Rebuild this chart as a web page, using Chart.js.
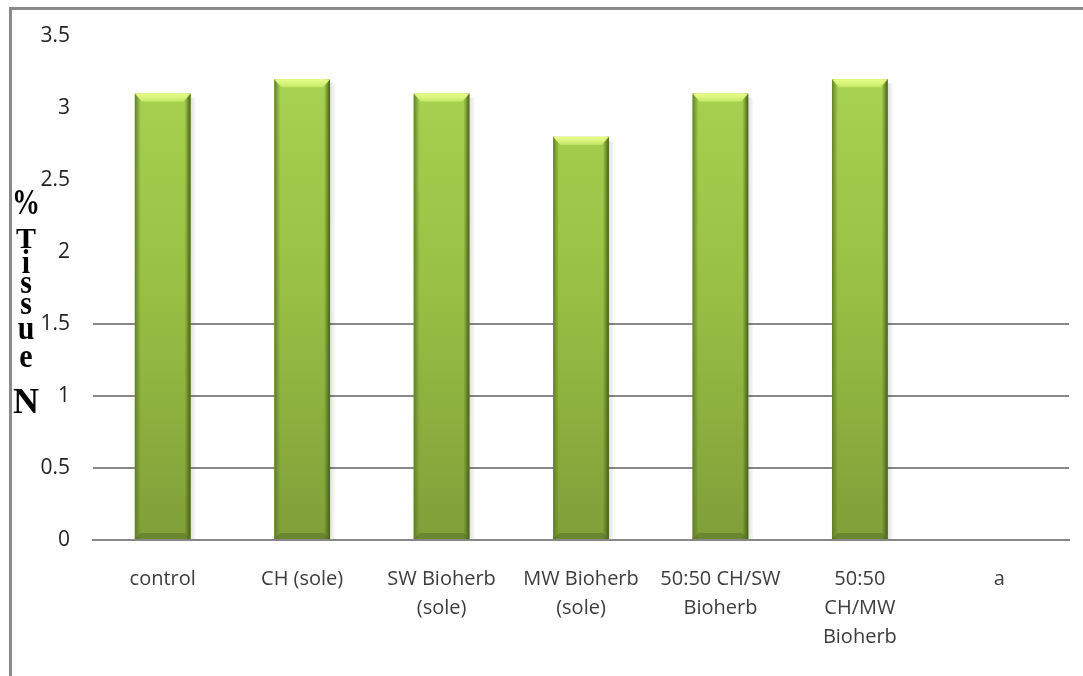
<!DOCTYPE html>
<html>
<head>
<meta charset="utf-8">
<script src="https://cdn.jsdelivr.net/npm/chart.js@4.4.1/dist/chart.umd.min.js"></script>
<style>
  html, body { margin: 0; padding: 0; background: #ffffff; }
  #wrap { width: 1083px; height: 676px; position: relative; }
</style>
</head>
<body>
<div id="wrap"><canvas id="c" width="1083" height="676"></canvas></div>
<script>
// ---- data ----
const categories = [
  ["control"],
  ["CH (sole)"],
  ["SW Bioherb", "(sole)"],
  ["MW Bioherb", "(sole)"],
  ["50:50 CH/SW", "Bioherb"],
  ["50:50", "CH/MW", "Bioherb"],
  ["a"]
];
const tissueN = [3.1, 3.2, 3.1, 2.8, 3.1, 3.2, null];
const yTitleLetters = ["%", "T", "i", "s", "s", "u", "e", "N"];
const yMin = 0, yMax = 3.5, yStep = 0.5;

// ---- plugins ----
const framePlugin = {
  id: 'frame',
  beforeDraw(chart) {
    const ctx = chart.ctx;
    ctx.save();
    ctx.fillStyle = '#ffffff';
    ctx.fillRect(0, 0, chart.width, chart.height);
    ctx.strokeStyle = '#8a8a8a';
    ctx.lineWidth = 3;
    ctx.beginPath();
    ctx.moveTo(10.5, chart.height);
    ctx.lineTo(10.5, 8.5);
    ctx.lineTo(chart.width, 8.5);
    ctx.stroke();
    ctx.restore();
  }
};

const yTitlePlugin = {
  id: 'yTitleStack',
  afterDraw(chart) {
    const ctx = chart.ctx;
    const baselines = [214, 248, 273, 293, 314, 339, 367, 413];
    const sizes = [28, 30, 30, 30, 30, 30, 30, 36];
    const stretch = [1.25, 1.0, 1.15, 1.15, 1.15, 1.15, 1.15, 1.0];
    ctx.save();
    ctx.fillStyle = '#000000';
    ctx.textAlign = 'center';
    ctx.textBaseline = 'alphabetic';
    yTitleLetters.forEach((ch, i) => {
      ctx.save();
      ctx.translate(26, baselines[i]);
      ctx.scale(1, stretch[i]);
      ctx.font = 'bold ' + sizes[i] + 'px "Liberation Serif", "DejaVu Serif", serif';
      ctx.fillText(ch, 0, 0);
      ctx.restore();
    });
    ctx.restore();
  }
};

const bevelPlugin = {
  id: 'bevel',
  beforeDatasetsDraw(chart) {
    const ctx = chart.ctx;
    const meta = chart.getDatasetMeta(0);
    ctx.save();
    meta.data.forEach((bar, i) => {
      if (tissueN[i] == null) return;
      const p = bar.getProps(['x', 'y', 'base', 'width'], true);
      const r = p.x + p.width / 2;
      const g = ctx.createLinearGradient(r, 0, r + 6, 0);
      g.addColorStop(0, 'rgba(0,0,0,0.12)');
      g.addColorStop(1, 'rgba(0,0,0,0)');
      ctx.fillStyle = g;
      ctx.fillRect(r, p.y + 4, 6, p.base - p.y - 4);
    });
    ctx.restore();
  },
  afterDatasetsDraw(chart) {
    const ctx = chart.ctx;
    const meta = chart.getDatasetMeta(0);
    ctx.save();
    meta.data.forEach((bar, i) => {
      if (tissueN[i] == null) return;
      const p = bar.getProps(['x', 'y', 'base', 'width'], true);
      const l = p.x - p.width / 2, r = p.x + p.width / 2;
      const t = p.y, b = p.base;
      const gl = ctx.createLinearGradient(l, 0, l + 6, 0);
      gl.addColorStop(0, 'rgba(95,125,35,0.95)');
      gl.addColorStop(1, 'rgba(95,125,35,0)');
      ctx.fillStyle = gl;
      ctx.fillRect(l, t, 6, b - t);
      const gr = ctx.createLinearGradient(r - 6, 0, r, 0);
      gr.addColorStop(0, 'rgba(70,95,25,0)');
      gr.addColorStop(1, 'rgba(70,95,25,1)');
      ctx.fillStyle = gr;
      ctx.fillRect(r - 6, t, 6, b - t);
      const gt = ctx.createLinearGradient(0, t, 0, t + 8);
      gt.addColorStop(0, '#eaff8c');
      gt.addColorStop(1, '#c4e868');
      ctx.fillStyle = gt;
      ctx.beginPath();
      ctx.moveTo(l, t);
      ctx.lineTo(r, t);
      ctx.lineTo(r - 7, t + 8);
      ctx.lineTo(l + 7, t + 8);
      ctx.closePath();
      ctx.fill();
      ctx.fillStyle = 'rgba(85,110,35,0.5)';
      ctx.beginPath();
      ctx.moveTo(l, b);
      ctx.lineTo(r, b);
      ctx.lineTo(r - 6, b - 6);
      ctx.lineTo(l + 6, b - 6);
      ctx.closePath();
      ctx.fill();
    });
    ctx.restore();
  }
};

function barFill(context) {
  const chart = context.chart;
  const area = chart.chartArea;
  if (!area) return '#a6cc4c';
  const g = chart.ctx.createLinearGradient(0, area.top, 0, area.bottom);
  g.addColorStop(0, '#aad553');
  g.addColorStop(0.5, '#99c044');
  g.addColorStop(1, '#809f39');
  return g;
}

new Chart(document.getElementById('c'), {
  type: 'bar',
  data: {
    labels: categories,
    datasets: [{
      data: tissueN,
      backgroundColor: barFill,
      borderWidth: 0,
      barPercentage: 0.4,
      categoryPercentage: 1.0
    }]
  },
  plugins: [framePlugin, bevelPlugin, yTitlePlugin],
  options: {
    responsive: false,
    animation: false,
    layout: { padding: { top: 36, right: 14, left: 0, bottom: 0 } },
    plugins: {
      legend: { display: false },
      tooltip: { enabled: false },
      title: { display: false }
    },
    scales: {
      x: {
        grid: { display: false, drawTicks: false },
        border: { display: true, color: '#878787', width: 2 },
        ticks: {
          color: '#3c3c3c',
          font: { family: '"Open Sans", "Liberation Sans", sans-serif', size: 20, lineHeight: 1.45 },
          padding: 25,
          maxRotation: 0,
          minRotation: 0,
          autoSkip: false
        },
        afterFit(scale) { scale.height = 136; }
      },
      y: {
        min: yMin,
        max: yMax,
        grid: {
          drawTicks: false,
          lineWidth: 2,
          color: (ctx) => (ctx.tick && ctx.tick.value <= 1.5 ? '#878787' : 'rgba(0,0,0,0)')
        },
        border: { display: false },
        ticks: {
          stepSize: yStep,
          color: '#222222',
          padding: 23,
          font: { family: '"Open Sans", "Liberation Sans", sans-serif', size: 21 },
          callback: (v) => String(v)
        },
        afterFit(scale) { scale.width = 93; }
      }
    }
  }
});
</script>
</body>
</html>
